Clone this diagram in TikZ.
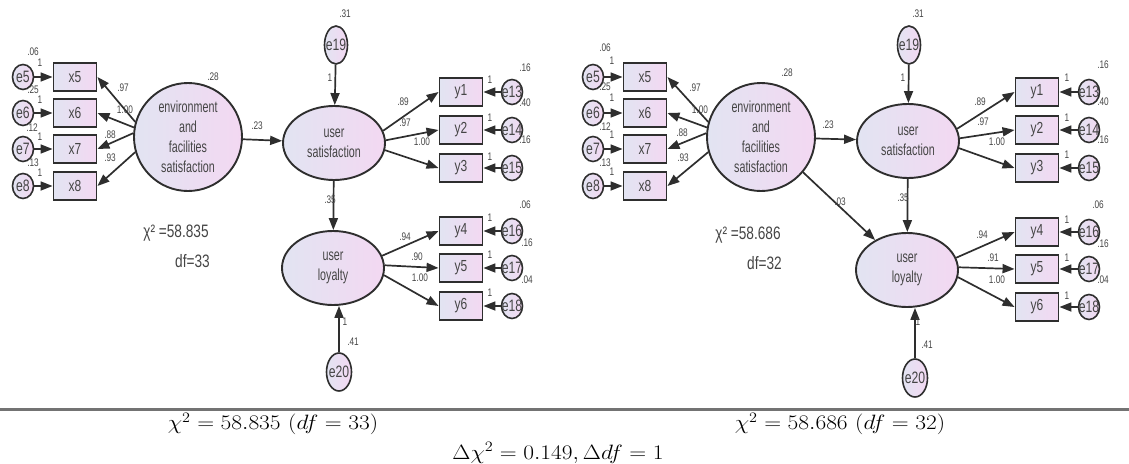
\documentclass[tikz,border=0pt]{standalone}
\usepackage[no-math]{fontspec}
\usepackage{graphicx}
\usetikzlibrary{shapes.geometric,arrows.meta}
\newfontfamily\arial{Liberation Sans}
\definecolor{fillL}{HTML}{E2E4F2}
\definecolor{fillR}{HTML}{F3D8F2}
\definecolor{ink}{HTML}{2E2E2E}
\definecolor{txt}{HTML}{454545}
\newcommand\nx[1]{\scalebox{0.67}[1]{#1}}
\newcommand\ek[1]{\makebox[0pt]{\scalebox{0.74}[1]{#1}}}
\newcommand\lb[1]{\scalebox{0.75}[1]{#1}}
\newcommand\cx[1]{\scalebox{1.13}[1]{#1}}
\tikzset{
  lat/.style={ellipse, draw=ink, line width=1.9pt, left color=fillL, right color=fillR,
    align=center, inner sep=0pt, text=txt, font=\arial\fontsize{16}{20}\selectfont},
  bigc/.style={lat, circle, minimum size=108pt},
  latS/.style={lat, minimum width=102pt, minimum height=74pt},
  obs/.style={rectangle, draw=ink, line width=1.9pt, left color=fillL, right color=fillR,
    minimum width=43pt, minimum height=28pt, inner sep=0pt, text=txt,
    font=\arial\fontsize{16}{16}\selectfont},
  err/.style={ellipse, draw=ink, line width=1.6pt, left color=fillL, right color=fillR,
    minimum width=21pt, minimum height=25pt, inner sep=0pt, text=txt,
    font=\arial\fontsize{16.5}{16.5}\selectfont},
  lbl/.style={inner sep=0pt, text=txt, font=\arial\fontsize{11}{11}\selectfont},
  chi/.style={inner sep=0pt, text=txt, font=\arial\fontsize{18}{18}\selectfont},
  arr/.style={-{Triangle[length=12pt,width=9pt]}, line width=1.7pt, draw=ink},
  captext/.style={inner sep=0pt, font=\fontsize{22}{26}\selectfont},
}
\begin{document}
\begin{tikzpicture}[x=1pt,y=-1pt]
\useasboundingbox (0,0) rectangle (1129,463);
% ================= LEFT MODEL =================
\node[bigc] (F1) at (188,137) {\nx{environment}\\\nx{and}\\\nx{facilities}\\\nx{satisfaction}};
\node[latS] (S1) at (334,143) {\nx{user}\\\nx{satisfaction}};
\node[latS] (L1) at (333,268) {\nx{user}\\\nx{loyalty}};
\node[err, minimum width=23pt, minimum height=38pt] (ea19) at (336,45) {\ek{e19}};
\node[err, minimum width=25pt, minimum height=38pt] (ea20) at (339,372) {\ek{e20}};
\foreach \n/\y in {5/77,6/113,7/149,8/186}{
  \node[obs] (xa\n) at (75,\y) {\lb{x\n}};
  \node[err] (ea\n) at (23,\y) {\ek{e\n}};
  \draw[arr] (ea\n) -- (xa\n);
}
\foreach \n/\e/\y in {1/13/92,2/14/130,3/15/168,4/16/231,5/17/268,6/18/306}{
  \node[obs] (ya\n) at (461,\y) {\lb{y\n}};
  \node[err] (ea\e) at (512,\y) {\ek{e\e}};
  \draw[arr] (ea\e) -- (ya\n);
}
\draw[arr] (F1.164) -- (xa5.east);
\draw[arr] (F1.170) -- (xa6.east);
\draw[arr] (F1.176) -- (xa7.east);
\draw[arr] (F1.196) -- (xa8.east);
\draw[arr] (F1) -- (S1);
\draw[arr] (ea19) -- (S1);
\draw[arr] (S1) -- (L1);
\draw[arr] (ea20) -- (ea20 |- L1.south);
\draw[arr] (S1.14) -- (ya1.west);
\draw[arr] (S1.3) -- (ya2.west);
\draw[arr] (S1.-8) -- (ya3.west);
\draw[arr] (L1.14) -- (ya4.west);
\draw[arr] (L1.3) -- (ya5.west);
\draw[arr] (L1.-8) -- (ya6.west);
\foreach \t/\x/\y [count=\i] in {
  .06/33/52, .25/33/90, .12/32/128, .13/33/163,
  1/40/63, 1/40/100, 1/40/137, 1/40/173,
  .97/123/88, 1.00/125/110, .88/110/135, .93/110/158,
  .28/213/77, .23/257/126, .31/345/14, 1/330/78,
  .89/403/102, .97/405/123, 1.00/422/142,
  .16/525/68, .40/525/103, .16/525/140,
  1/490/80, 1/490/118, 1/490/157,
  .35/330/200,
  .06/525/205, .16/527/243, .04/527/280,
  1/490/218, 1/490/255, 1/490/293,
  .94/405/237, .90/417/257, 1.00/420/278,
  1/345/322, .41/353/342}
  \node[lbl] (la\i) at (\x,\y) {\lb{\t}};
\node[chi] (chia) at (176,233) {\scalebox{0.76}[1]{χ² =58.835}};
\node[chi, anchor=east] (dfa) at (210,261) {\scalebox{0.76}[1]{df=33}};
% ================= RIGHT MODEL =================
\node[bigc] (F2) at (761,137) {\nx{environment}\\\nx{and}\\\nx{facilities}\\\nx{satisfaction}};
\node[latS] (S2) at (908,141) {\nx{user}\\\nx{satisfaction}};
\node[latS] (L2) at (907,270) {\nx{user}\\\nx{loyalty}};
\node[err, minimum width=23pt, minimum height=38pt] (eb19) at (909,45) {\ek{e19}};
\node[err, minimum width=25pt, minimum height=38pt] (eb20) at (915,378) {\ek{e20}};
\foreach \n/\y in {5/77,6/113,7/149,8/186}{
  \node[obs] (xb\n) at (645,\y) {\lb{x\n}};
  \node[err] (eb\n) at (593,\y) {\ek{e\n}};
  \draw[arr] (eb\n) -- (xb\n);
}
\foreach \n/\e/\y in {1/13/92,2/14/130,3/15/168,4/16/232,5/17/269,6/18/307}{
  \node[obs] (yb\n) at (1037,\y) {\lb{y\n}};
  \node[err] (eb\e) at (1089,\y) {\ek{e\e}};
  \draw[arr] (eb\e) -- (yb\n);
}
\draw[arr] (F2.164) -- (xb5.east);
\draw[arr] (F2.170) -- (xb6.east);
\draw[arr] (F2.176) -- (xb7.east);
\draw[arr] (F2.196) -- (xb8.east);
\draw[arr] (F2) -- (S2);
\draw[arr] (F2.-40) -- (L2);
\draw[arr] (eb19) -- (S2);
\draw[arr] (S2) -- (L2);
\draw[arr] (eb20) -- (eb20 |- L2.south);
\draw[arr] (S2.14) -- (yb1.west);
\draw[arr] (S2.3) -- (yb2.west);
\draw[arr] (S2.-8) -- (yb3.west);
\draw[arr] (L2.14) -- (yb4.west);
\draw[arr] (L2.3) -- (yb5.west);
\draw[arr] (L2.-8) -- (yb6.west);
\foreach \t/\x/\y [count=\i] in {
  .06/605/48, .25/605/87, .12/605/127, .13/605/163,
  1/612/61, 1/612/98, 1/612/135, 1/612/172,
  .97/695/88, 1.00/700/110, .88/682/133, .93/683/158,
  .28/787/73, .23/828/125, .31/918/14, 1/903/78,
  .89/980/102, .97/983/122, 1.00/997/142,
  .16/1103/65, .40/1103/102, .16/1103/140,
  1/1067/78, 1/1067/118, 1/1067/155,
  .03/840/202, .35/903/198,
  .06/1098/205, .16/1103/244, .04/1103/280,
  1/1067/220, 1/1067/258, 1/1067/296,
  .94/982/235, .91/993/258, 1.00/997/280,
  1/918/322, .41/927/345}
  \node[lbl] (lb\i) at (\x,\y) {\lb{\t}};
\node[chi] (chib) at (748,235) {\scalebox{0.76}[1]{χ² =58.686}};
\node[chi, anchor=east] (dfb) at (782,263) {\scalebox{0.76}[1]{df=32}};
% ================= CAPTION =================
\draw[line width=3pt, draw=black!55] (0,409) -- (1129,409);
\node[captext] (capa) at (273,424) {\cx{$\chi^2 = 58.835$ $(df = 33)$}};
\node[captext] (capb) at (840,424) {\cx{$\chi^2 = 58.686$ $(df = 32)$}};
\node[captext] (capc) at (558,453) {\cx{$\Delta\chi^2 = 0.149, \Delta df = 1$}};
\end{tikzpicture}
\end{document}
